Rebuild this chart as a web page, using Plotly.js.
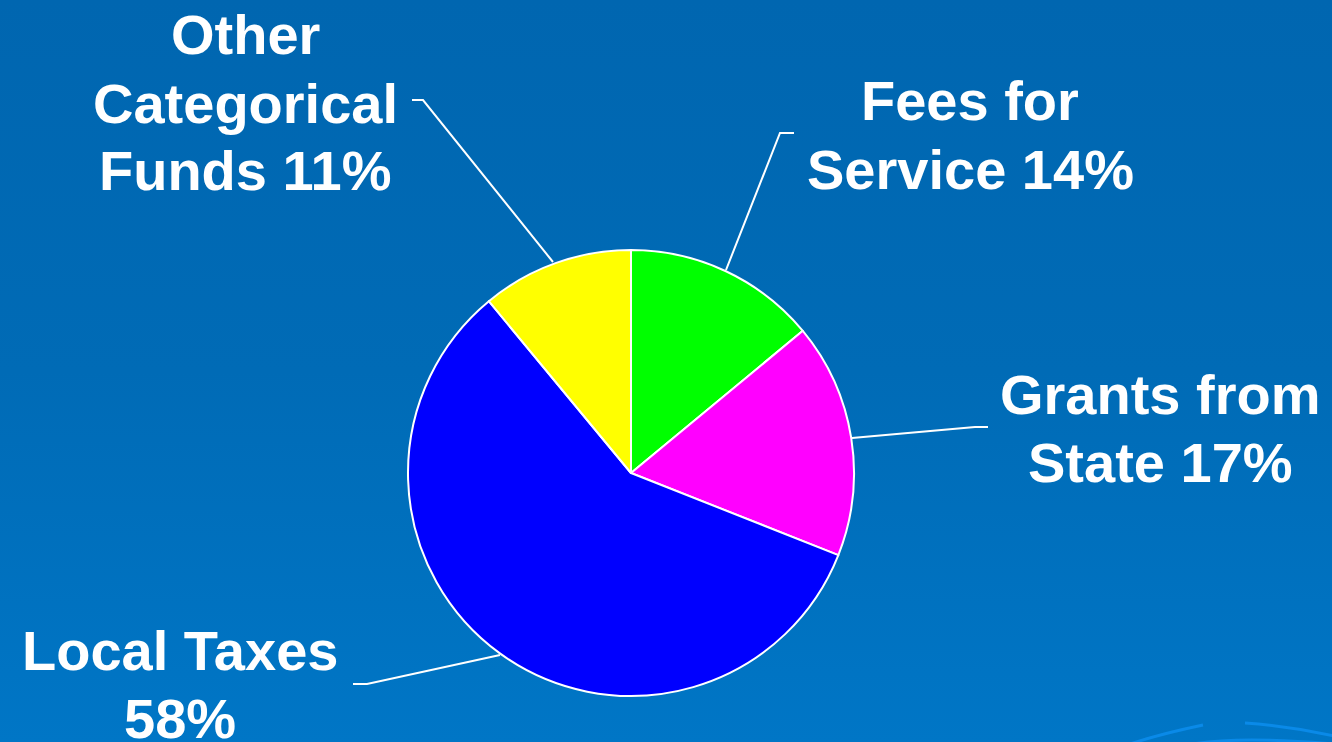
<!DOCTYPE html>
<html>
<head>
<meta charset="utf-8">
<script src="https://cdn.plot.ly/plotly-3.0.1.min.js"></script>
<style>
  html, body { margin: 0; padding: 0; }
  body { width: 1332px; height: 742px; overflow: hidden;
         background: linear-gradient(to bottom, #0066b0 0%, #006bb6 50%, #0076c6 100%); }
  #chart { width: 1332px; height: 742px; }
</style>
</head>
<body>
<div id="chart"></div>
<script>
// Data
const categories = ['Fees for Service', 'Grants from State', 'Local Taxes', 'Other Categorical Funds'];
const shares = [14, 17, 58, 11];
const sliceColors = ['#00ff00', '#ff00ff', '#0000ff', '#ffff00'];
const labelPrefixes = ['Fees for<br>Service ', 'Grants from<br>State ', 'Local Taxes<br>', 'Other<br>Categorical<br>Funds '];

const W = 1332, H = 742;
const px = x => x / W;
const py = y => 1 - y / H;

// label placement (styling): center x, center y of first line
const labelPos = [[970, 101], [1160, 394], [180, 650], [245, 35]];
const lineStep = 68;
const leaderLines = [
  [[794, 133], [780, 133], [726, 270]],
  [[852, 438], [975, 427], [988, 427]],
  [[500, 655], [367, 684], [353, 684]],
  [[412, 100], [423, 100], [553, 262]]
];

const cx = 631, cy = 473, r = 223;

const trace = {
  type: 'pie',
  labels: categories,
  values: shares,
  sort: false,
  direction: 'clockwise',
  rotation: 0,
  textinfo: 'none',
  hoverinfo: 'label+percent',
  marker: { colors: sliceColors, line: { color: '#ffffff', width: 2 } },
  domain: { x: [px(cx - r), px(cx + r)], y: [py(cy + r), py(cy - r)] },
  showlegend: false
};

const annotations = [];
categories.forEach((c, i) => {
  const lines = (labelPrefixes[i] + shares[i] + '%').split('<br>');
  lines.forEach((ln, k) => {
    annotations.push({
      xref: 'paper', yref: 'paper',
      x: px(labelPos[i][0]), y: py(labelPos[i][1] + k * lineStep),
      xanchor: 'center', yanchor: 'middle',
      text: ln.trim(),
      showarrow: false,
      align: 'center',
      font: { family: 'Liberation Sans, Arial, sans-serif', size: 56, color: '#ffffff', weight: 'bold' }
    });
  });
});

const toPath = pts => pts.map((p, k) => (k === 0 ? 'M ' : 'L ') + px(p[0]) + ' ' + py(p[1])).join(' ');

const shapes = leaderLines.map(pts => ({
  type: 'path', xref: 'paper', yref: 'paper',
  path: toPath(pts),
  line: { color: '#ffffff', width: 2 }
}));

// decorative swooshes bottom-right
const swooshes = [
  [[1130, 744], [1160, 734], [1203, 725]],
  [[1245, 723], [1290, 726], [1334, 736]],
  [[1193, 744], [1240, 736], [1300, 740], [1334, 744]]
];
swooshes.forEach(pts => {
  const d = 'M ' + px(pts[0][0]) + ' ' + py(pts[0][1]) + ' Q ' +
    px(pts[1][0]) + ' ' + py(pts[1][1]) + ' ' + px(pts[pts.length - 1][0]) + ' ' + py(pts[pts.length - 1][1]);
  shapes.push({ type: 'path', xref: 'paper', yref: 'paper', path: d, line: { color: '#0a8ae8', width: 3 }, layer: 'below' });
});

const layout = {
  width: W, height: H,
  margin: { l: 0, r: 0, t: 0, b: 0 },
  paper_bgcolor: 'rgba(0,0,0,0)',
  plot_bgcolor: 'rgba(0,0,0,0)',
  annotations: annotations,
  shapes: shapes
};

Plotly.newPlot('chart', [trace], layout, { displayModeBar: false, staticPlot: true });
</script>
</body>
</html>
